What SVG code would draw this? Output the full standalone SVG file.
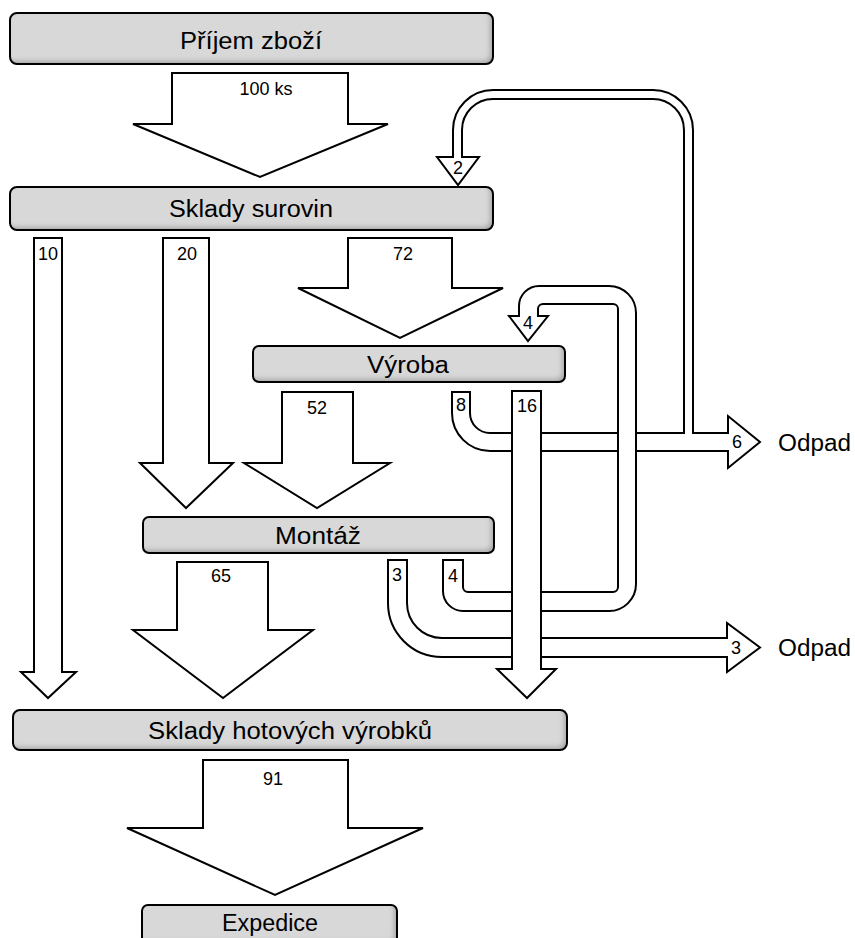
<svg xmlns="http://www.w3.org/2000/svg" width="855" height="938" viewBox="0 0 855 938">
  <style>
    .box { fill: #d8d8d8; filter: url(#bevel); }
    .frame { fill: none; stroke: #000; stroke-width: 2; }
    .flow { fill: #fff; stroke: #000; stroke-width: 2; stroke-linejoin: miter; }
    .title { font-family: "Liberation Sans", Arial, sans-serif; font-size: 23px; fill: #000; text-anchor: middle; dominant-baseline: central; }
    .qty { font-family: "Liberation Sans", Arial, sans-serif; font-size: 18px; fill: #000; text-anchor: middle; dominant-baseline: central; }
    .out { font-family: "Liberation Sans", Arial, sans-serif; font-size: 23px; fill: #000; dominant-baseline: central; }
  </style>
  <defs>
    <!-- darkened lower/right rim inside each process box -->
    <filter id="bevel" x="-5%" y="-20%" width="110%" height="140%">
      <feGaussianBlur in="SourceAlpha" stdDeviation="2.5" result="blur"/>
      <feOffset in="blur" dx="-3" dy="-3" result="shift"/>
      <feComposite in="SourceAlpha" in2="shift" operator="out" result="rim"/>
      <feFlood flood-color="#000" flood-opacity="0.45"/>
      <feComposite in2="rim" operator="in" result="shade"/>
      <feMerge>
        <feMergeNode in="SourceGraphic"/>
        <feMergeNode in="shade"/>
      </feMerge>
    </filter>
  </defs>

  <!-- flows -->
  <g id="connectors">
    <!-- Prijem -> Sklady surovin -->
    <path class="flow" d="M172 73 H348 V124 H388 L260 177 L133 124 H172 Z"/>
    <!-- Sklady surovin -> Sklady hotovych -->
    <path class="flow" d="M34 238 H62 V672 H76 L48 698 L21 672 H34 Z"/>
    <!-- Sklady surovin -> Montaz -->
    <path class="flow" d="M163 238 H209 V463 H233 L186 508 L140 463 H163 Z"/>
    <!-- Sklady surovin -> Vyroba -->
    <path class="flow" d="M348 238 H452 V288 H503 L400 338 L298 288 H348 Z"/>
    <!-- Vyroba -> Montaz -->
    <path class="flow" d="M282 392 H353 V463 H390 L317 508 L244 463 H282 Z"/>
    <!-- Montaz -> Sklady hotovych -->
    <path class="flow" d="M177 562 H268 V630 H313 L223 698 L133 630 H177 Z"/>
    <!-- Sklady hotovych -> Expedice -->
    <path class="flow" d="M203 760 H348 V828 H423 L275 895 L127 828 H203 Z"/>

    <!-- Vyroba waste: 6 out, 2 back to Sklady surovin -->
    <path class="flow" d="M452 392 H470 V413 A20 20 0 0 0 490 433 H684 V130 A31 31 0 0 0 653 99 H493 A31 31 0 0 0 462 130 V157 H479 L458 185 L437 157 H453 V130 A40 40 0 0 1 493 90 H653 A40 40 0 0 1 693 130 V433 H728 V416 L760 442 L728 468 V451 H490 A38 38 0 0 1 452 413 Z"/>
    <!-- Montaz waste -->
    <path class="flow" d="M388 560 H407 V603 A35 35 0 0 0 442 638 H727 V623 L760 647.5 L727 672 V657 H442 A54 54 0 0 1 388 603 Z"/>
    <!-- Montaz rework back to Vyroba -->
    <path class="flow" d="M443 560 H463 V587 A5 5 0 0 0 468 592 H613 A5 5 0 0 0 618 587 V309 A5 5 0 0 0 613 304 H543 A5 5 0 0 0 538 309 V316 H548 L528 341 L509 316 H519 V306 A20 20 0 0 1 539 286 H609 A27 27 0 0 1 636 313 V584 A27 27 0 0 1 609 611 H463 A20 20 0 0 1 443 591 Z"/>
    <!-- Vyroba -> Sklady hotovych -->
    <path class="flow" d="M512 391 H541 V669 H556 L527 698 L497 669 H512 Z"/>

    <text class="qty" x="266" y="89">100 ks</text>
    <text class="qty" x="48" y="254">10</text>
    <text class="qty" x="187" y="254">20</text>
    <text class="qty" x="403" y="254">72</text>
    <text class="qty" x="317" y="408">52</text>
    <text class="qty" x="221" y="576">65</text>
    <text class="qty" x="273" y="779">91</text>
    <text class="qty" x="458" y="168">2</text>
    <text class="qty" x="528" y="323">4</text>
    <text class="qty" x="461" y="405">8</text>
    <text class="qty" x="527" y="406">16</text>
    <text class="qty" x="397" y="575">3</text>
    <text class="qty" x="453" y="576">4</text>
    <text class="qty" x="737" y="442">6</text>
    <text class="qty" x="736" y="648">3</text>
  </g>

  <g id="prijem">
    <rect class="box" x="10" y="13" width="483" height="51" rx="7"/>
    <rect class="frame" x="10" y="13" width="483" height="51" rx="7"/>
    <text class="title" x="251" y="41" textLength="142" lengthAdjust="spacingAndGlyphs">Příjem zboží</text>
  </g>
  <g id="sklady-surovin">
    <rect class="box" x="10" y="187" width="483" height="43" rx="7"/>
    <rect class="frame" x="10" y="187" width="483" height="43" rx="7"/>
    <text class="title" x="251" y="209" textLength="164" lengthAdjust="spacingAndGlyphs">Sklady surovin</text>
  </g>
  <g id="vyroba">
    <rect class="box" x="253" y="346" width="312" height="36" rx="6"/>
    <rect class="frame" x="253" y="346" width="312" height="36" rx="6"/>
    <text class="title" x="408" y="365" textLength="82" lengthAdjust="spacingAndGlyphs">Výroba</text>
  </g>
  <g id="montaz">
    <rect class="box" x="143" y="517" width="351" height="36" rx="6"/>
    <rect class="frame" x="143" y="517" width="351" height="36" rx="6"/>
    <text class="title" x="318" y="536" textLength="86" lengthAdjust="spacingAndGlyphs">Montáž</text>
  </g>
  <g id="sklady-hotovych">
    <rect class="box" x="13" y="710" width="554" height="40" rx="7"/>
    <rect class="frame" x="13" y="710" width="554" height="40" rx="7"/>
    <text class="title" x="290" y="731" textLength="284" lengthAdjust="spacingAndGlyphs">Sklady hotových výrobků</text>
  </g>
  <g id="expedice">
    <rect class="box" x="142" y="905" width="255" height="40" rx="6"/>
    <rect class="frame" x="142" y="905" width="255" height="40" rx="6"/>
    <text class="title" x="270" y="923" textLength="96" lengthAdjust="spacingAndGlyphs">Expedice</text>
  </g>
  <g id="odpad-vyroba">
    <text class="out" x="778" y="443" textLength="73" lengthAdjust="spacingAndGlyphs">Odpad</text>
  </g>
  <g id="odpad-montaz">
    <text class="out" x="778" y="648" textLength="73" lengthAdjust="spacingAndGlyphs">Odpad</text>
  </g>
</svg>
